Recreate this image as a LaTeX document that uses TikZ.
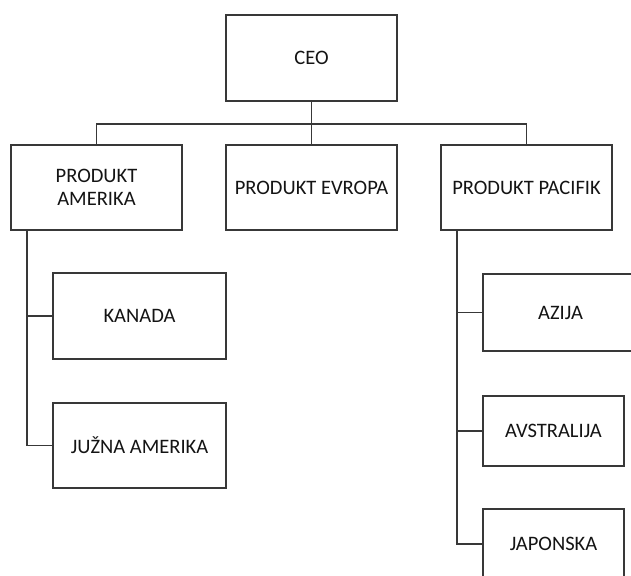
\documentclass[tikz,border=0pt]{standalone}
\usepackage{fontspec}
\setmainfont{Carlito}
\usetikzlibrary{calc}
\definecolor{linegray}{HTML}{383838}
\definecolor{inkgray}{HTML}{141414}
\begin{document}
\begin{tikzpicture}[x=0.75pt,y=-0.75pt,
  unitbox/.style={rectangle, draw=linegray, line width=1.15pt, fill=white,
    text=inkgray, font=\fontsize{15.4}{17.3}\selectfont, align=center,
    inner sep=0pt},
  link/.style={draw=linegray, line width=1.15pt}]
  % canvas
  \useasboundingbox (0,0) rectangle (631,575);
  \fill[white] (0,0) rectangle (631,575);
  \clip (0,0) rectangle (631,575);

  % top level
  \node[unitbox, minimum width=128.25pt, minimum height=64.5pt] (ceo) at (311.5,58) {CEO};

  % divisions
  \node[unitbox, minimum width=128.25pt, minimum height=63.75pt] (amer) at (96.5,187.5) {PRODUKT\\AMERIKA};
  \node[unitbox, minimum width=128.25pt, minimum height=63.75pt] (evro) at (311.5,187.5) {PRODUKT EVROPA};
  \node[unitbox, minimum width=128.25pt, minimum height=63.75pt] (paci) at (526.5,187.5) {PRODUKT PACIFIK};

  % regions under Amerika
  \node[unitbox, minimum width=129.75pt, minimum height=64.5pt] (kan) at (139.5,316) {KANADA};
  \node[unitbox, minimum width=129.75pt, minimum height=63.75pt] (jam) at (139.5,445.5) {JUŽNA AMERIKA};

  % regions under Pacifik
  \node[unitbox, minimum width=116.25pt, minimum height=57.75pt] (azi) at (560.5,312.5) {AZIJA};
  \node[unitbox, minimum width=105.75pt, minimum height=52.5pt] (avs) at (553.5,431) {AVSTRALIJA};
  \node[unitbox, minimum width=105.75pt, minimum height=52.5pt] (jap) at (553.5,544) {JAPONSKA};

  % CEO to divisions
  \coordinate (bus) at ($(ceo.south)+(0,22)$);
  \draw[link] (ceo.south) -- (bus);
  \draw[link] (bus) -| (amer.north);
  \draw[link] (bus) -- (evro.north);
  \draw[link] (bus) -| (paci.north);

  % Amerika branch
  \coordinate (amtrunk) at ($(amer.south west)+(17,0)$);
  \draw[link] (amtrunk) |- (kan.west);
  \draw[link] (amtrunk) |- (jam.west);

  % Pacifik branch
  \coordinate (patrunk) at ($(paci.south west)+(17,0)$);
  \draw[link] (patrunk) |- (azi.west);
  \draw[link] (patrunk) |- (avs.west);
  \draw[link] (patrunk) |- (jap.west);
\end{tikzpicture}
\end{document}
